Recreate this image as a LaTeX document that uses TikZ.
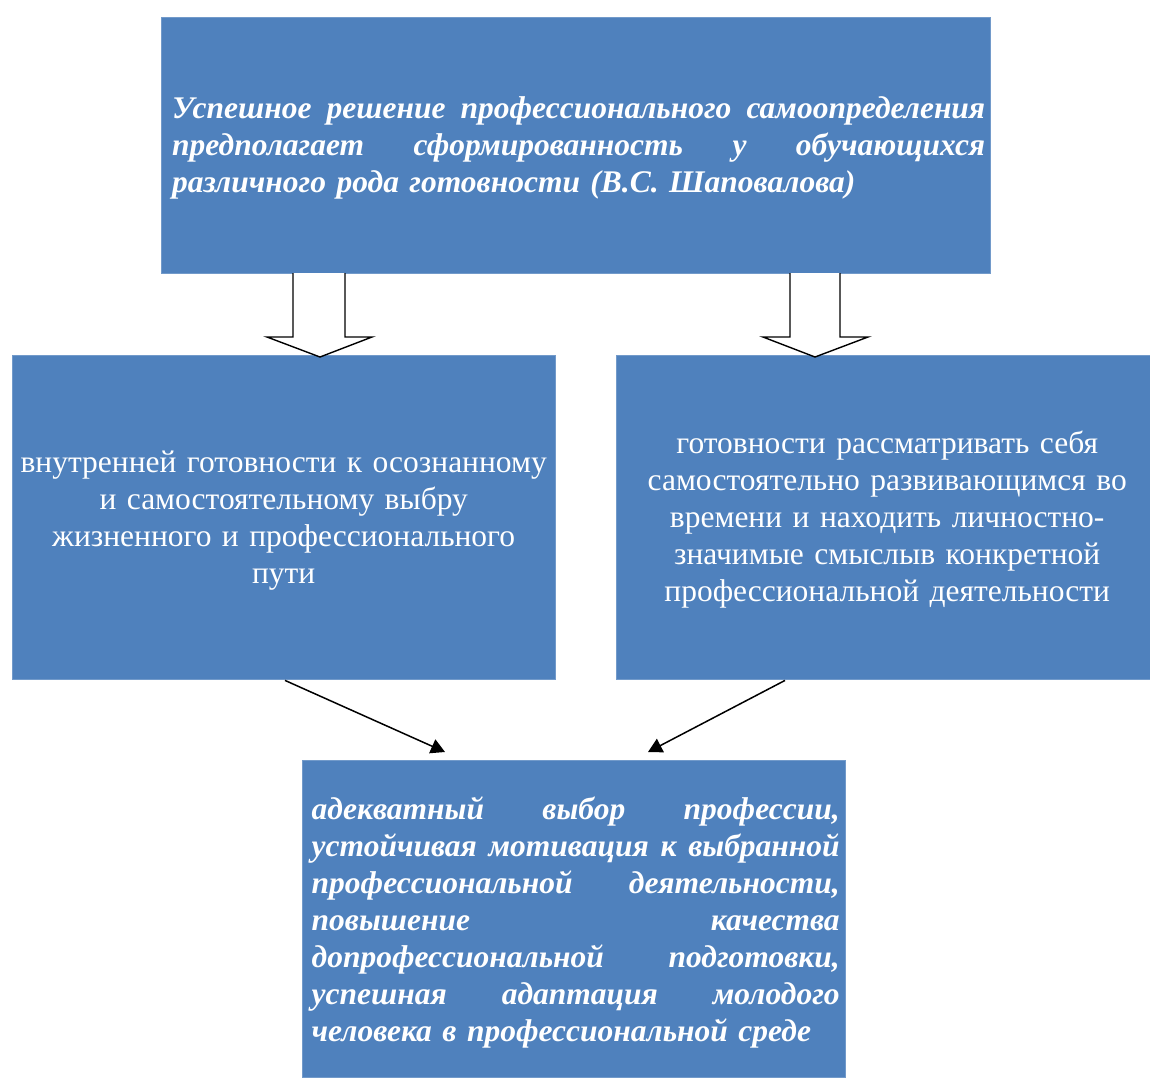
\documentclass[tikz,border=0pt]{standalone}
\usepackage{fontspec}
\setmainfont{Liberation Serif}
\usetikzlibrary{arrows.meta,calc}
\definecolor{boxblue}{HTML}{4F81BD}
\newcommand{\jl}[1]{\leavevmode\hbox to \hsize{\spaceskip=0.25em plus 10em\relax #1}\\}
\begin{document}
\begin{tikzpicture}[x=1pt,y=-1pt,
  bluebox/.style={fill=boxblue,draw=boxblue!80!white,inner sep=0pt,anchor=north west,text=white},
  bigtxt/.style={font=\fontsize{31.5}{37}\selectfont\bfseries\itshape},
  midtxt/.style={font=\fontsize{31.5}{37}\selectfont},
  blockarrow/.style={draw=black,fill=white,line width=1.4pt,line join=miter},
  conn/.style={draw=black,line width=1.5pt,-{Triangle[length=14pt,width=15pt]}}]
\useasboundingbox (0,0) rectangle (1150,1077);
\node[bluebox,minimum width=829pt,minimum height=256pt] (top) at (161,17) {};
\node[bigtxt,text=white,text width=813pt,align=left,inner sep=0pt] (toptxt) at ($(top.center)+(3,3)$)
 {\jl{Успешное решение профессионального самоопределения}\jl{предполагает сформированность у обучающихся}различного рода готовности (В.С. Шаповалова)};
\node[bluebox,minimum width=543pt,minimum height=324pt] (left) at (12,355) {};
\node[midtxt,text=white,text width=540pt,align=center,inner sep=0pt] (lefttxt) at ($(left.center)+(0,3)$)
 {внутренней готовности к осознанному\\и самостоятельному выбру\\жизненного и профессионального\\пути};
\node[bluebox,minimum width=534pt,minimum height=324pt] (right) at (616,355) {};
\node[midtxt,text=white,text width=530pt,align=center,inner sep=0pt] (righttxt) at ($(right.center)+(4,2)$)
 {готовности рассматривать себя\\самостоятельно развивающимся во\\времени и находить личностно-\\значимые смыслыв конкретной\\профессиональной деятельности};
\node[bluebox,minimum width=543pt,minimum height=317pt] (bottom) at (302,760) {};
\node[bigtxt,text=white,text width=528pt,align=left,inner sep=0pt] (bottomtxt) at ($(bottom.center)+(2,4)$)
 {\jl{адекватный выбор профессии,}\jl{устойчивая мотивация к выбранной}\jl{профессиональной деятельности,}\jl{повышение качества}\jl{допрофессиональной подготовки,}\jl{успешная адаптация молодого}человека в профессиональной среде};
% block arrows
\draw[blockarrow] (293,273) -- (293,337) -- (267,337) -- (320,357) -- (372,337) -- (345,337) -- (345,273);
\draw[blockarrow] (790,273) -- (790,337) -- (763,337) -- (815,357) -- (868,337) -- (840,337) -- (840,273);
% connectors
\draw[conn] ($(left.south west)+(273,1)$) -- ($(bottom.north west)+(143,-8)$);
\draw[conn] ($(right.south west)+(169,1)$) -- ($(bottom.north west)+(346,-8)$);
\end{tikzpicture}
\end{document}
